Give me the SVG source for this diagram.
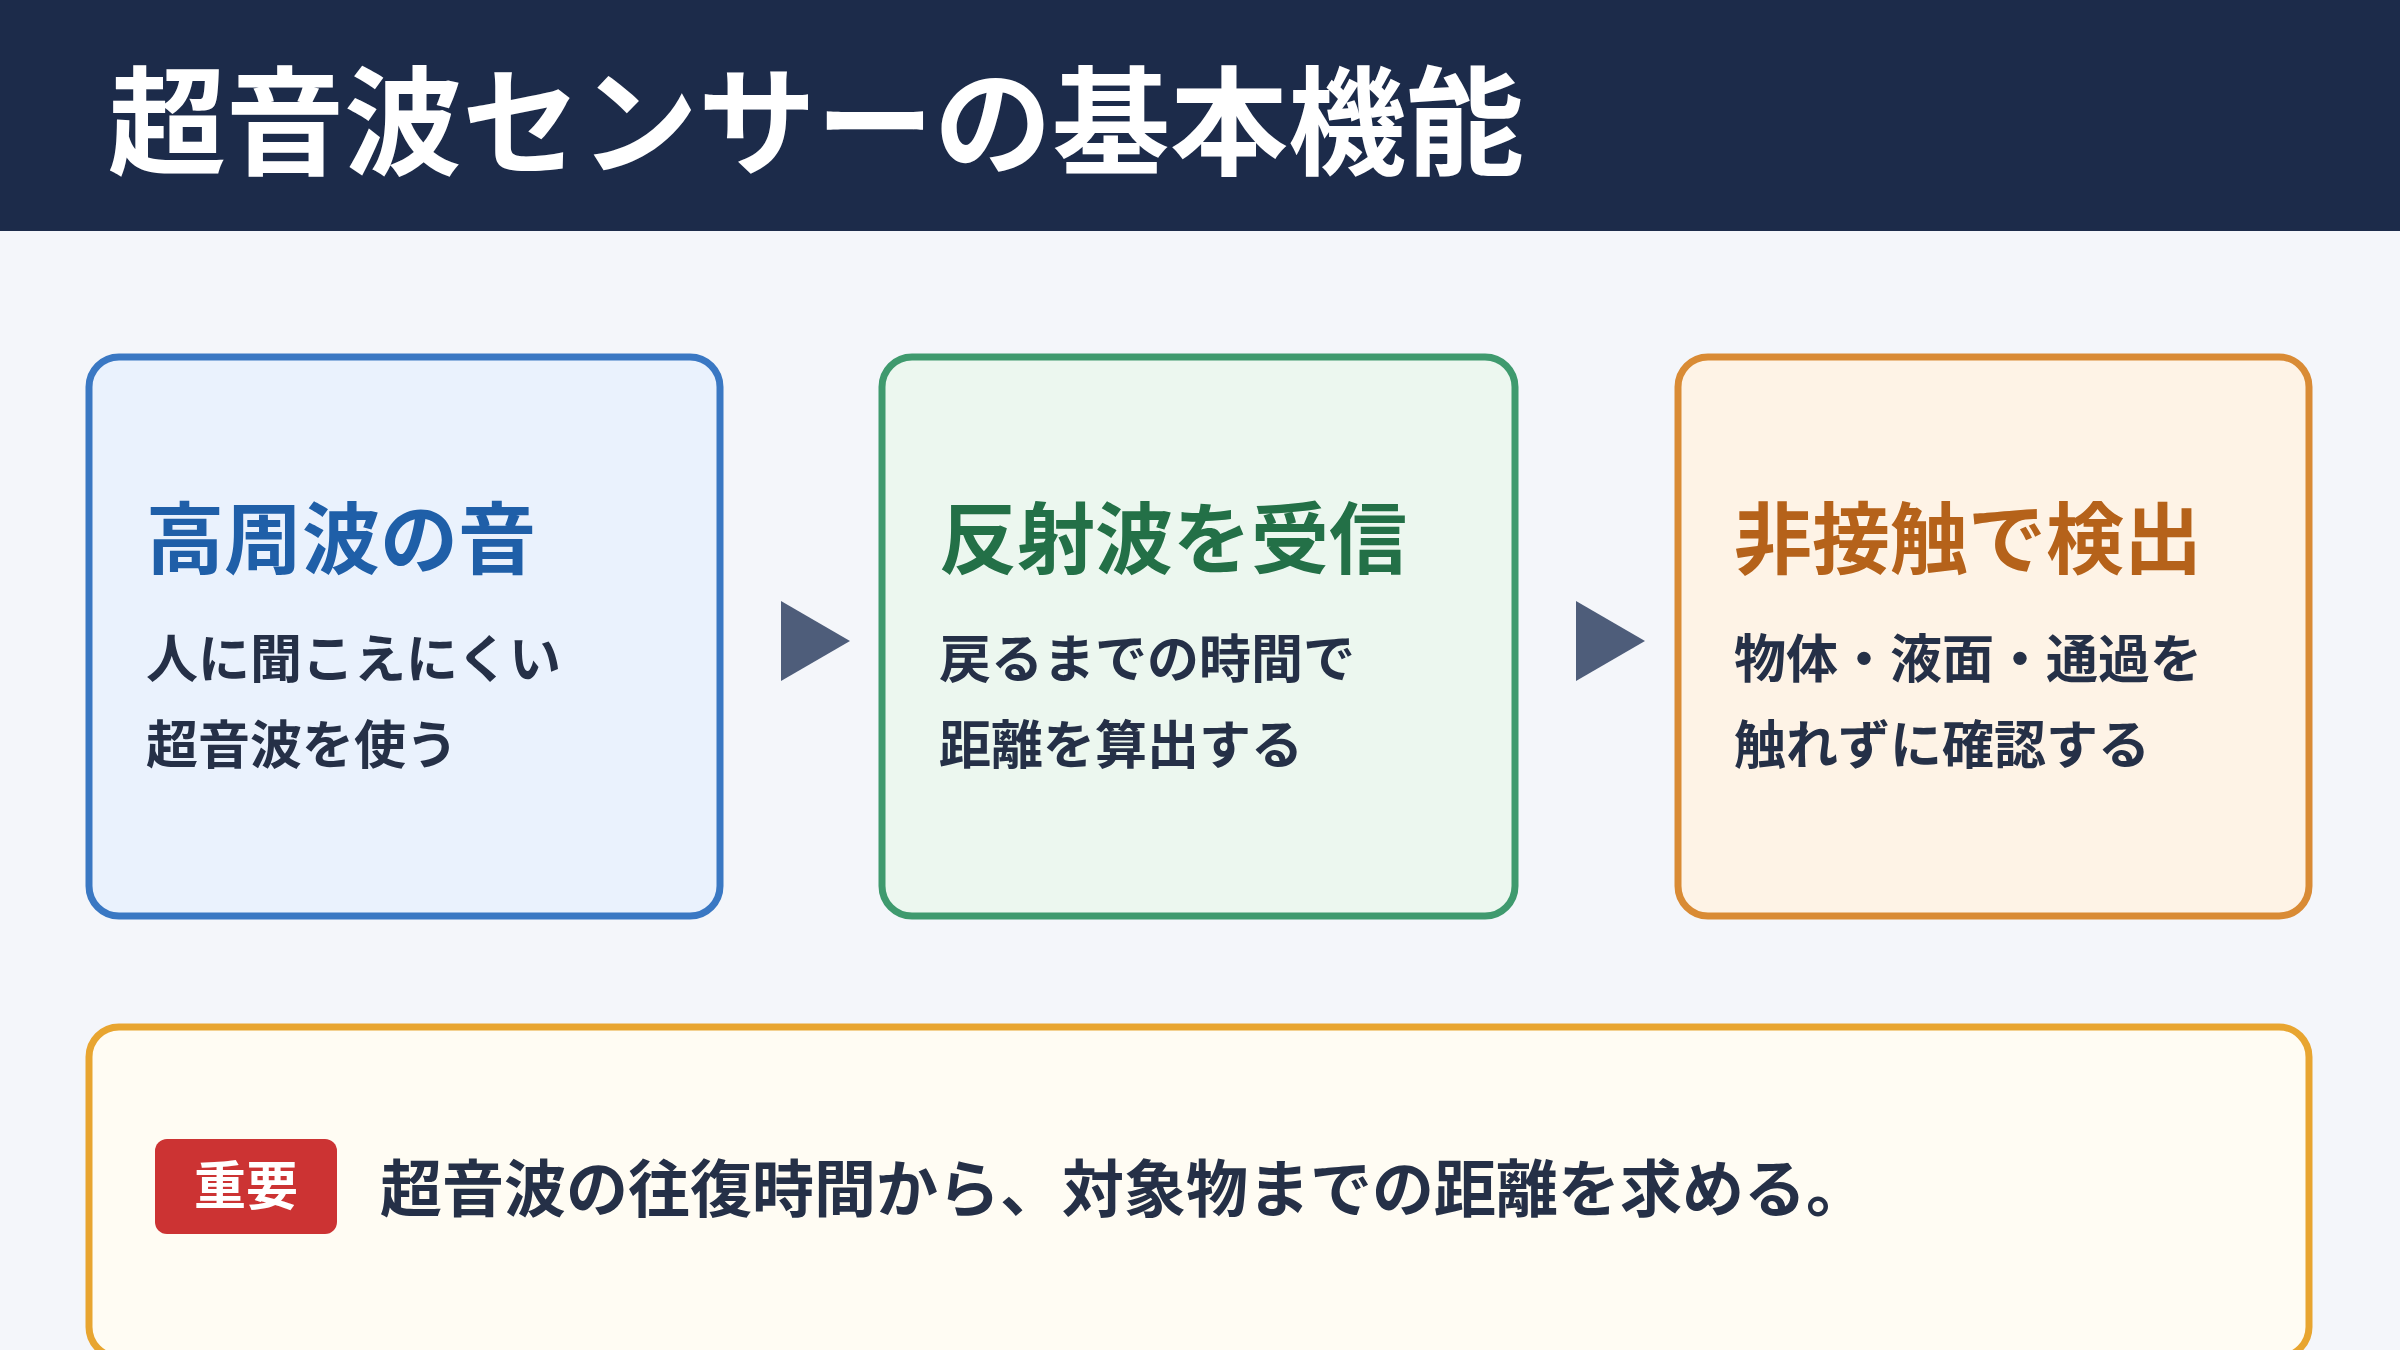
<svg xmlns="http://www.w3.org/2000/svg" width="2400" height="1350" viewBox="0 0 2400 1350">
<style>
text{font-family:"Noto Sans CJK JP","Noto Sans CJK SC",sans-serif;font-weight:700}
.h{font-size:78px}
.b{font-size:52px;fill:#253047}
.box{stroke-width:7}
</style>
<rect width="2400" height="1350" fill="#f4f6fa"/>
<rect width="2400" height="231" fill="#1c2b4a"/>
<text x="108" y="166" font-size="118" fill="#ffffff">超音波センサーの基本機能</text>
<g id="node1">
<rect class="box" x="89" y="357" width="631" height="559" rx="30" fill="#eaf2fd" stroke="#3a78c3"/>
<text class="h" x="146" y="568" fill="#1f5fa8">高周波の音</text>
<text class="b" x="146" y="678">人に聞こえにくい</text>
<text class="b" x="146" y="764">超音波を使う</text>
</g>
<g id="node2">
<rect class="box" x="882" y="357" width="633" height="559" rx="30" fill="#ecf7ef" stroke="#3f9a6e"/>
<text class="h" x="939" y="568" fill="#237047">反射波を受信</text>
<text class="b" x="939" y="678">戻るまでの時間で</text>
<text class="b" x="939" y="764">距離を算出する</text>
</g>
<g id="node3">
<rect class="box" x="1678" y="357" width="631" height="559" rx="30" fill="#fef3e6" stroke="#d98b35"/>
<text class="h" x="1734" y="568" fill="#b5621a">非接触で検出</text>
<text class="b" x="1734" y="678">物体・液面・通過を</text>
<text class="b" x="1734" y="764">触れずに確認する</text>
</g>
<g id="connectors" fill="#4e5d7a">
<polygon points="781,601 850,641 781,681"/>
<polygon points="1576,601 1645,641 1576,681"/>
</g>
<g id="note">
<rect class="box" x="89" y="1027" width="2220" height="330" rx="30" fill="#fffcf3" stroke="#e8a530"/>
<rect x="155" y="1139" width="182" height="95" rx="12" fill="#cc3333"/>
<text x="246" y="1205" font-size="52" fill="#ffffff" text-anchor="middle">重要</text>
<text x="380" y="1212" font-size="62" fill="#253047">超音波の往復時間から、対象物までの距離を求める。</text>
</g>
</svg>
